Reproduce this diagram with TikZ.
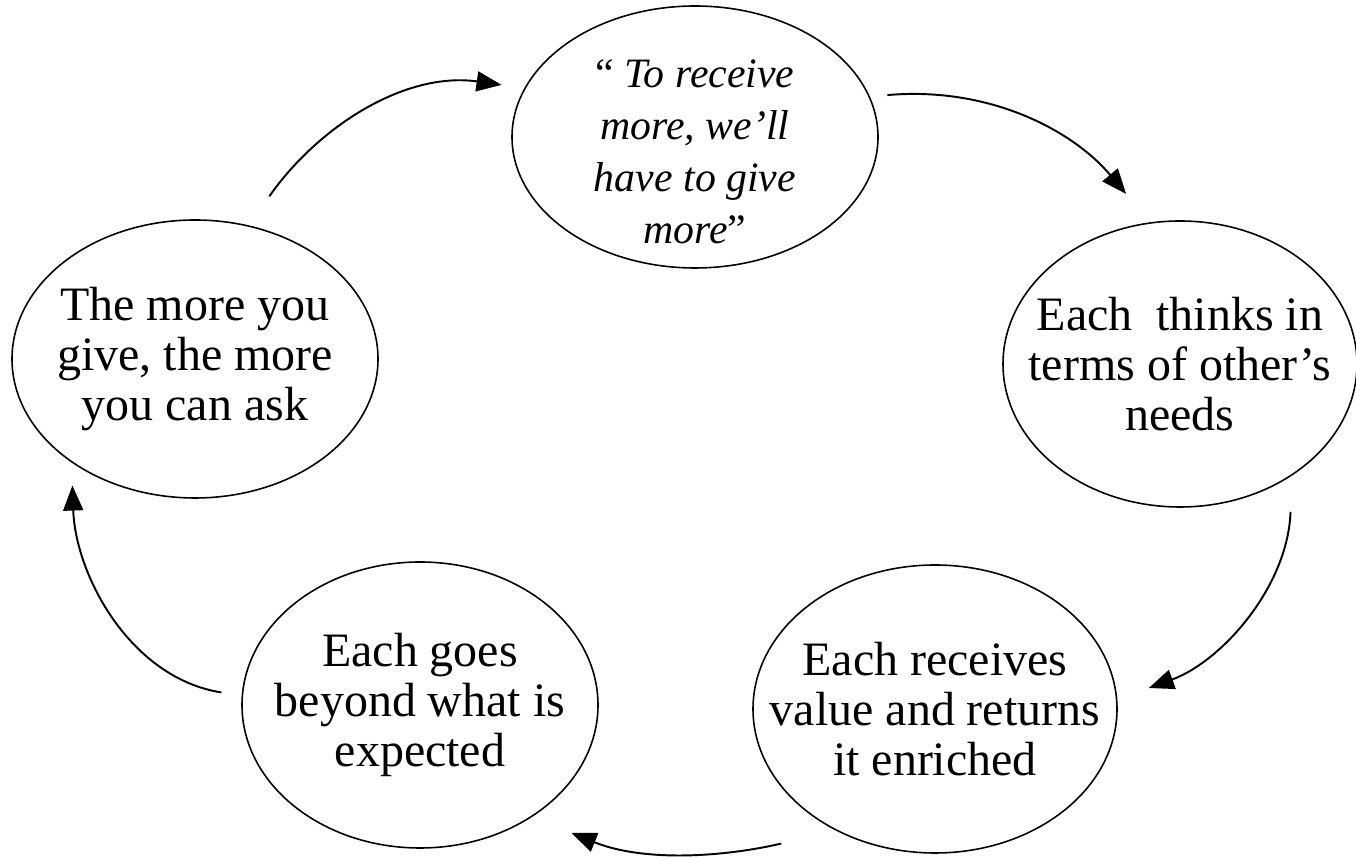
\documentclass[tikz,border=0pt]{standalone}
\usepackage{fontspec}
\setmainfont{Liberation Serif}
\usetikzlibrary{arrows.meta,shapes.geometric}
\tikzset{
  bub/.style={draw, ellipse, line width=0.9pt, inner sep=0pt},
  txt/.style={align=center, inner sep=0pt, font=\fontsize{27.3}{28.5}\selectfont},
  cyc/.style={-{Triangle[length=0.5cm,width=0.4cm]}, line width=1.1pt},
}

\begin{document}
\begin{tikzpicture}
  \useasboundingbox (0,0) rectangle (27.12,17.2);
  % bubbles
  \node[bub, minimum width=7.32cm, minimum height=5.24cm] (quote) at (13.9,14.46) {};
  \node[bub, minimum width=7.08cm, minimum height=5.72cm] (needs) at (23.6,9.92) {};
  \node[bub, minimum width=7.28cm, minimum height=5.76cm] (returns) at (18.7,3.02) {};
  \node[bub, minimum width=7.12cm, minimum height=5.72cm] (beyond) at (8.4,3.1) {};
  \node[bub, minimum width=7.32cm, minimum height=5.56cm] (give) at (3.9,10.02) {};
  % texts
  \node[txt, font=\fontsize{23.8}{29.6}\selectfont\itshape] (quote-t) at ([yshift=-0.3cm]quote) {\textup{“} To receive\\more, we’ll\\have to give\\more\textup{”}};
  \node[txt] (needs-t) at (needs) {Each\ \ thinks in\\terms of other’s\\needs};
  \node[txt] (returns-t) at (returns) {Each receives\\value and returns\\it enriched};
  \node[txt] (beyond-t) at (beyond) {Each goes\\beyond what is\\expected};
  \node[txt] (give-t) at (give) {The more you\\give, the more\\you can ask};
  % cycle
  \draw[cyc, shorten <=0.71cm, shorten >=0.46cm] (give.68) to[out=55, in=172] (quote.164);
  \draw[cyc, shorten <=0.35cm, shorten >=0.74cm] (quote.13) to[out=5, in=130] (needs.102);
  \draw[cyc, shorten <=0.72cm, shorten >=0.67cm] (needs.315) to[out=-92, in=20] (returns.3);
  \draw[cyc, shorten <=1.13cm, shorten >=0.85cm] (returns.231) to[out=193, in=338] (beyond.315);
  \draw[cyc, shorten <=0.41cm, shorten >=0.46cm] (beyond.177) to[out=171, in=272] (give.220);
\end{tikzpicture}
\end{document}
